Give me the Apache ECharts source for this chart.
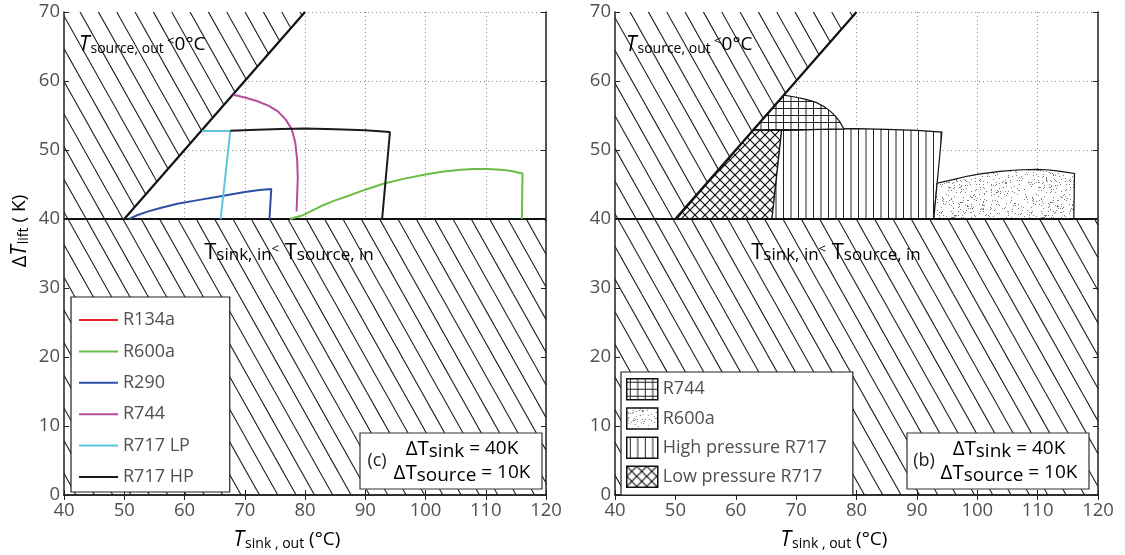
<!DOCTYPE html>
<html>
<head>
<meta charset="utf-8">
<script src="https://cdn.jsdelivr.net/npm/echarts@6/dist/echarts.min.js"></script>
<style>
  html, body { margin: 0; padding: 0; background: #fff; }
  #chart { width: 1125px; height: 555px; }
</style>
</head>
<body>
<div id="chart"></div>
<script>
// axes
const xRange = [40, 120];
const xStep = 10;
const yRange = [0, 70];
const yStep = 10;

// infeasible zones (shared by both panels)
const sourceZone = [[40, 40], [50, 40], [80, 70], [40, 70]];
const sinkZone = [[40, 0], [120, 0], [120, 40], [40, 40]];
const limitDiagonal = [[50, 40], [80, 70]];
const limitBottom = [[40, 40], [120, 40]];

// panel (c): operating envelopes
const r134a = [];
const r600a = [[77.5, 40], [79.5, 40.5], [81.2, 41.2], [83, 42.0], [85, 42.7], [87, 43.3], [90, 44.25], [93, 45.1],
  [96.5, 45.85], [100.2, 46.5], [103, 46.9], [105.8, 47.15], [108, 47.25], [110.2, 47.25], [112.5, 47.15],
  [114, 47.0], [116.1, 46.6], [116.0, 40]];
const r290 = [[50.8, 40], [52, 40.5], [54, 41.1], [56, 41.6], [58.8, 42.2], [62, 42.7], [66, 43.3], [70, 43.9],
  [72.5, 44.2], [74.4, 44.35], [74.1, 40]];
const r744 = [[68.1, 58.0], [70, 57.6], [72, 57.1], [74, 56.4], [75.5, 55.6], [76.8, 54.4], [77.8, 53.0],
  [78.4, 51.0], [78.7, 48.5], [78.8, 46], [78.7, 43.5], [78.6, 41.1]];
const r717LP = [[62.9, 52.75], [67.6, 52.75], [66.0, 40]];
const r717HP = [[67.6, 52.8], [72, 52.95], [76, 53.05], [80, 53.1], [85, 53.0], [90, 52.85], [94.1, 52.6], [92.8, 40]];

// panel (b): best refrigerant zones
const zoneR744 = [[62.9, 52.9], [68.0, 57.95], [70, 57.65], [71.8, 57.3], [73.3, 56.9], [74.6, 56.3], [75.7, 55.6],
  [76.5, 54.9], [77.3, 54.0], [77.9, 53.05], [72, 52.95], [67.6, 52.85]];
const zoneR600a = [[92.8, 40], [93.35, 45.2], [96, 45.7], [98.3, 46.2], [100.5, 46.55], [103.8, 46.9], [106.5, 47.1],
  [109.9, 47.2], [112, 47.1], [113.8, 46.9], [116.1, 46.6], [116.0, 40]];
const zoneHP = [[66.0, 40], [67.6, 52.85], [72, 52.95], [76, 53.05], [80, 53.1], [85, 53.0], [90, 52.85],
  [94.15, 52.6], [92.8, 40]];
const zoneLP = [[50.2, 40], [62.9, 52.9], [67.6, 52.85], [66.0, 40]];

const FONT = 'Open Sans';
const GREY = '#505050';

// fill patterns drawn on small canvases
function tile(w, h, draw) {
  const c = document.createElement('canvas');
  c.width = w;
  c.height = h;
  const ctx = c.getContext('2d');
  ctx.fillStyle = '#fff';
  ctx.fillRect(0, 0, w, h);
  draw(ctx);
  return { image: c, repeat: 'repeat' };
}
function seg(ctx, x1, y1, x2, y2) {
  ctx.beginPath();
  ctx.moveTo(x1, y1);
  ctx.lineTo(x2, y2);
  ctx.stroke();
}
const hatch = tile(55, 98, ctx => {
  ctx.strokeStyle = '#1a1a1a';
  ctx.lineWidth = 1.1;
  for (let k = -3; k <= 3; k++) seg(ctx, k * 55 / 3, 0, k * 55 / 3 + 55, 98);
});
const vlines = tile(15, 8, ctx => {
  ctx.strokeStyle = '#222';
  ctx.lineWidth = 1;
  seg(ctx, 3.5, 0, 3.5, 8);
  seg(ctx, 11, 0, 11, 8);
});
const gridPat = tile(15, 14, ctx => {
  ctx.strokeStyle = '#222';
  ctx.lineWidth = 1;
  seg(ctx, 3.5, 0, 3.5, 14);
  seg(ctx, 11, 0, 11, 14);
  seg(ctx, 0, 3.5, 15, 3.5);
  seg(ctx, 0, 10.5, 15, 10.5);
});
const cross = tile(10, 10, ctx => {
  ctx.strokeStyle = '#111';
  ctx.lineWidth = 1.2;
  for (let k = -1; k <= 1; k++) {
    seg(ctx, k * 10 - 1, -1, k * 10 + 11, 11);
    seg(ctx, k * 10 + 11, -1, k * 10 - 1, 11);
  }
});
const dots = tile(90, 90, ctx => {
  // fixed-seed texture for the stipple fill
  let s = 12345;
  const next = () => (s = (s * 1103515245 + 12345) % 2147483648) / 2147483648;
  ctx.fillStyle = 'rgba(70,70,70,0.7)';
  for (let i = 0; i < 650; i++) {
    ctx.fillRect(Math.floor(next() * 90), Math.floor(next() * 90), 1, 1);
  }
});

function zone(name, pts, fill, axis, stroke) {
  return {
    type: 'custom',
    name: name,
    xAxisIndex: axis,
    yAxisIndex: axis,
    silent: true,
    z: stroke ? 3 : 2,
    itemStyle: { color: fill, borderColor: '#000', borderWidth: 1 },
    data: [pts[0]],
    renderItem: (params, api) => ({
      type: 'polygon',
      shape: { points: pts.map(p => api.coord(p)) },
      style: { fill: fill, stroke: stroke ? '#111' : null, lineWidth: stroke || 0 }
    })
  };
}
function curve(name, data, color, axis, width) {
  return {
    type: 'line',
    name: name,
    xAxisIndex: axis,
    yAxisIndex: axis,
    data: data,
    symbol: 'none',
    z: 5,
    lineStyle: { color: color, width: width || 2 },
    itemStyle: { color: color }
  };
}

const grids = [
  { left: 64, top: 12, width: 482, height: 483 },
  { left: 615, top: 12, width: 483, height: 483 }
];
const xAxes = [];
const yAxes = [];
grids.forEach((g, i) => {
  const base = { gridIndex: i, type: 'value', min: xRange[0], max: xRange[1], interval: xStep };
  const frame = { show: true, lineStyle: { color: '#222', width: 1.5 } };
  const ticks = { show: true, inside: true, length: 5, lineStyle: { color: '#222' } };
  xAxes.push(
    { ...base, position: 'bottom', z: 10, axisLine: frame, axisTick: ticks,
      axisLabel: { margin: 6, fontSize: 18.5, color: GREY, fontFamily: FONT }, splitLine: { show: false } },
    { ...base, position: 'top', z: 10, axisLine: frame, axisTick: ticks, axisLabel: { show: false }, splitLine: { show: false } },
    { ...base, position: 'bottom', z: 0, axisLine: { show: false }, axisTick: { show: false }, axisLabel: { show: false },
      splitLine: { show: true, lineStyle: { color: '#8a8a8a', type: [1, 3], width: 1 } } }
  );
  const ybase = { gridIndex: i, type: 'value', min: yRange[0], max: yRange[1], interval: yStep };
  yAxes.push(
    { ...ybase, position: 'left', z: 10, axisLine: frame, axisTick: ticks,
      axisLabel: { margin: 4, fontSize: 18.5, color: GREY, fontFamily: FONT }, splitLine: { show: false } },
    { ...ybase, position: 'right', z: 10, axisLine: frame, axisTick: ticks, axisLabel: { show: false }, splitLine: { show: false } },
    { ...ybase, position: 'left', z: 0, axisLine: { show: false }, axisTick: { show: false }, axisLabel: { show: false },
      splitLine: { show: true, lineStyle: { color: '#8a8a8a', type: [1, 3], width: 1 } } }
  );
});

const series = [];
[0, 3].forEach(ax => {
  series.push(zone('sink', sinkZone, hatch, ax, 0));
  series.push(zone('source', sourceZone, hatch, ax, 0));
});
series.push(
  zone('Low pressure R717', zoneLP, cross, 3, 1.2),
  zone('High pressure R717', zoneHP, vlines, 3, 1.2),
  zone('R744 ', zoneR744, gridPat, 3, 1.2),
  zone('R600a ', zoneR600a, dots, 3, 1.2)
);
[0, 3].forEach(ax => {
  series.push(curve('limit', limitDiagonal, '#111', ax, 2.2));
  series.push(curve('limit', limitBottom, '#111', ax, 2.2));
});
series.push(
  curve('R134a', r134a, '#e8202a', 0),
  curve('R600a', r600a, '#6cbd45', 0),
  curve('R290', r290, '#2d4fa3', 0),
  curve('R744', r744, '#b64c9f', 0),
  curve('R717 LP', r717LP, '#5ec6da', 0),
  curve('R717 HP', r717HP, '#1a1a1a', 0)
);

const legendText = { fontSize: 18, color: GREY, fontFamily: FONT, lineHeight: 20 };

// annotation text helpers
const richBase = { fontFamily: FONT, color: GREY };
function rich(obj) {
  const out = {};
  Object.keys(obj).forEach(k => { out[k] = { ...richBase, ...obj[k] }; });
  return out;
}
const sourceRich = rich({
  it: { fontSize: 21, fontStyle: 'italic' },
  s: { fontSize: 14, padding: [9, 0, 0, 1] },
  lt: { fontSize: 13, padding: [0, 0, 7, 0] },
  n: { fontSize: 19 }
});
const sinkRich = rich({
  t: { fontSize: 22 },
  s: { fontSize: 17, padding: [4, 0, 0, 0] },
  lt: { fontSize: 13, padding: [0, 0, 7, 0] }
});
const boxRich = rich({
  d: { fontSize: 20.5 },
  s: { fontSize: 19, padding: [5, 0, 0, 0] },
  e: { fontSize: 19 }
});
const xTitleRich = rich({
  t: { fontSize: 21, fontStyle: 'italic', color: '#222' },
  s: { fontSize: 14, padding: [9, 0, 0, 1], color: '#222' },
  u: { fontSize: 19, color: '#222' }
});

function panelTexts(dx, tag) {
  return [
    { type: 'text', z: 100, x: 79 + dx, y: 45,
      style: { text: '{it|T}{s|source, out}{lt| <}{n|0°C}', rich: sourceRich, verticalAlign: 'middle' } },
    { type: 'text', z: 100, x: 289 + dx, y: 253,
      style: { text: '{t|T}{s|sink, in}{lt|<}{t| T}{s|source, in}', rich: sinkRich, align: 'center', verticalAlign: 'middle' } },
    { type: 'rect', z: 100, shape: { x: 360 + dx, y: 433, width: 182, height: 56 },
      style: { fill: '#fff', stroke: '#333', lineWidth: 1.2 } },
    { type: 'text', z: 101, x: 377 + dx, y: 461,
      style: { text: tag, fontSize: 18, fontFamily: FONT, fill: '#222', align: 'center', verticalAlign: 'middle' } },
    { type: 'text', z: 101, x: 462 + dx, y: 449,
      style: { text: '{d|ΔT}{s|sink}{e| = 40K}', rich: boxRich, align: 'center', verticalAlign: 'middle' } },
    { type: 'text', z: 101, x: 462 + dx, y: 473,
      style: { text: '{d|ΔT}{s|source}{e| = 10K}', rich: boxRich, align: 'center', verticalAlign: 'middle' } },
    { type: 'text', z: 100, x: 287 + dx, y: 540,
      style: { text: '{t|T}{s|sink , out}{u| (°C)}', rich: xTitleRich, align: 'center', verticalAlign: 'middle' } }
  ];
}

const chart = echarts.init(document.getElementById('chart'));
chart.setOption({
  animation: false,
  textStyle: { fontFamily: FONT },
  grid: grids,
  xAxis: xAxes,
  yAxis: yAxes,
  legend: [
    {
      data: ['R134a', 'R600a', 'R290', 'R744', 'R717 LP', 'R717 HP'],
      orient: 'vertical', left: 71, top: 297, icon: 'rect',
      itemWidth: 39, itemHeight: 2, itemGap: 11.4,
      padding: [13, 36, 5, 8],
      backgroundColor: '#fff', borderColor: '#222', borderWidth: 1.2, borderRadius: 0,
      textStyle: legendText, selectedMode: false, z: 20
    },
    {
      data: ['R744 ', 'R600a ', 'High pressure R717', 'Low pressure R717'],
      orient: 'vertical', left: 621, top: 372, icon: 'rect',
      itemWidth: 31, itemHeight: 21, itemGap: 6.7,
      padding: [6, 26, 7, 5],
      backgroundColor: '#fff', borderColor: '#222', borderWidth: 1.2, borderRadius: 0,
      itemStyle: { borderColor: '#111', borderWidth: 1.5 },
      textStyle: legendText, selectedMode: false, z: 20
    }
  ],
  graphic: [
    ...panelTexts(0, '(c)'),
    ...panelTexts(547, '(b)'),
    { type: 'text', z: 100, x: 20, y: 231, rotation: Math.PI / 2,
      style: {
        text: '{d|Δ}{t|T}{s|lift}{u| ( K)}',
        rich: rich({
          d: { fontSize: 20, color: '#222' },
          t: { fontSize: 21, fontStyle: 'italic', color: '#222' },
          s: { fontSize: 14, padding: [9, 0, 0, 1], color: '#222' },
          u: { fontSize: 19, color: '#222' }
        }),
        align: 'center', verticalAlign: 'middle'
      } }
  ],
  series: series
});
</script>
</body>
</html>
